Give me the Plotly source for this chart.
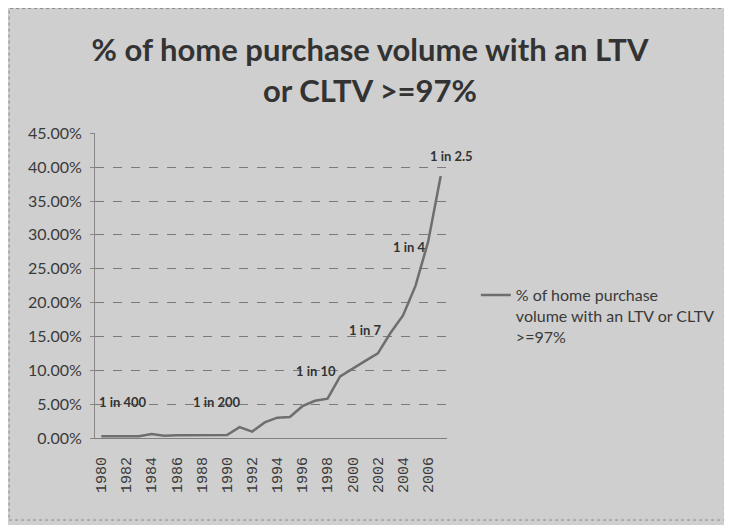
import plotly.graph_objects as go

years = list(range(1980, 2008))
pct_values = [0.25, 0.25, 0.25, 0.25, 0.6, 0.35, 0.4, 0.4, 0.4, 0.4,
              0.45, 1.6, 0.95, 2.3, 3.0, 3.1, 4.7, 5.5, 5.8, 9.1,
              10.3, 11.4, 12.5, 15.5, 18.1, 22.5, 29.0, 38.7]
tick_years = list(range(1980, 2007, 2))
y_ticks = [0, 5, 10, 15, 20, 25, 30, 35, 40, 45]
series_name = "% of home purchase<br>volume with an LTV or CLTV<br>>=97%"
title_text = "% of home purchase volume with an LTV<br>or CLTV >=97%"
ann_labels = ["1 in 400", "1 in 200", "1 in 10", "1 in 7", "1 in 4", "1 in 2.5"]
ann_years = [1981.7, 1989.2, 1997.1, 2001.0, 2004.5, 2007.0]
ann_levels = [5.35, 5.35, 9.9, 15.9, 28.2, 41.7]
ann_xshift = [0, 0, 0, 0, 0, 11]

bg = "#cfcfcf"
txt = "#3a3a3a"

fig = go.Figure()
fig.add_trace(go.Scatter(
    x=years, y=pct_values, mode="lines", name=series_name,
    line=dict(color="#6e6e6e", width=2.5),
    showlegend=True,
))

for lab, xv, yv, xs in zip(ann_labels, ann_years, ann_levels, ann_xshift):
    fig.add_annotation(x=xv, y=yv, text=lab, showarrow=False,
                       xref="x", yref="y", xshift=xs,
                       font=dict(family="Lato", size=13, color="#333333", weight="bold"))

fig.add_shape(type="rect", xref="paper", yref="paper",
              x0=-0.244, x1=1.788, y0=-0.269, y1=1.408,
              line=dict(color="#8a8a8a", width=1, dash="dot"))

fig.update_layout(
    width=724, height=517,
    paper_bgcolor=bg, plot_bgcolor=bg,
    margin=dict(l=87, r=283, t=125, b=87),
    title=dict(text=title_text, x=0.5, xref="container", xanchor="center",
               y=0.897, yanchor="middle",
               font=dict(family="Lato", size=31, color="#333333", weight="bold")),
    xaxis=dict(range=[1979.5, 2007.5], tickmode="array", tickvals=tick_years,
               ticktext=[str(y) for y in tick_years], tickangle=-90,
               tickfont=dict(family="Liberation Mono", size=15, color=txt),
               showgrid=False, zeroline=False, showline=True,
               linecolor="#808080", linewidth=1, ticks="", ticklabelstandoff=12),
    yaxis=dict(range=[0, 45.05], tickmode="array", tickvals=y_ticks,
               ticktext=[f"{v:.2f}%" for v in y_ticks],
               tickfont=dict(family="Lato", size=16, color=txt),
               showgrid=True, gridcolor="#7a7a7a", griddash="dash", gridwidth=1,
               zeroline=False, showline=True, linecolor="#888888", linewidth=1,
               ticks="outside", ticklen=4, tickcolor="#888888", ticklabelstandoff=5),
    legend=dict(x=1.082, y=0.524, xanchor="left", yanchor="top",
                bgcolor="rgba(0,0,0,0)", valign="top",
                font=dict(family="Lato", size=16, color=txt)),
    showlegend=True,
)

fig.write_html("out.html")
